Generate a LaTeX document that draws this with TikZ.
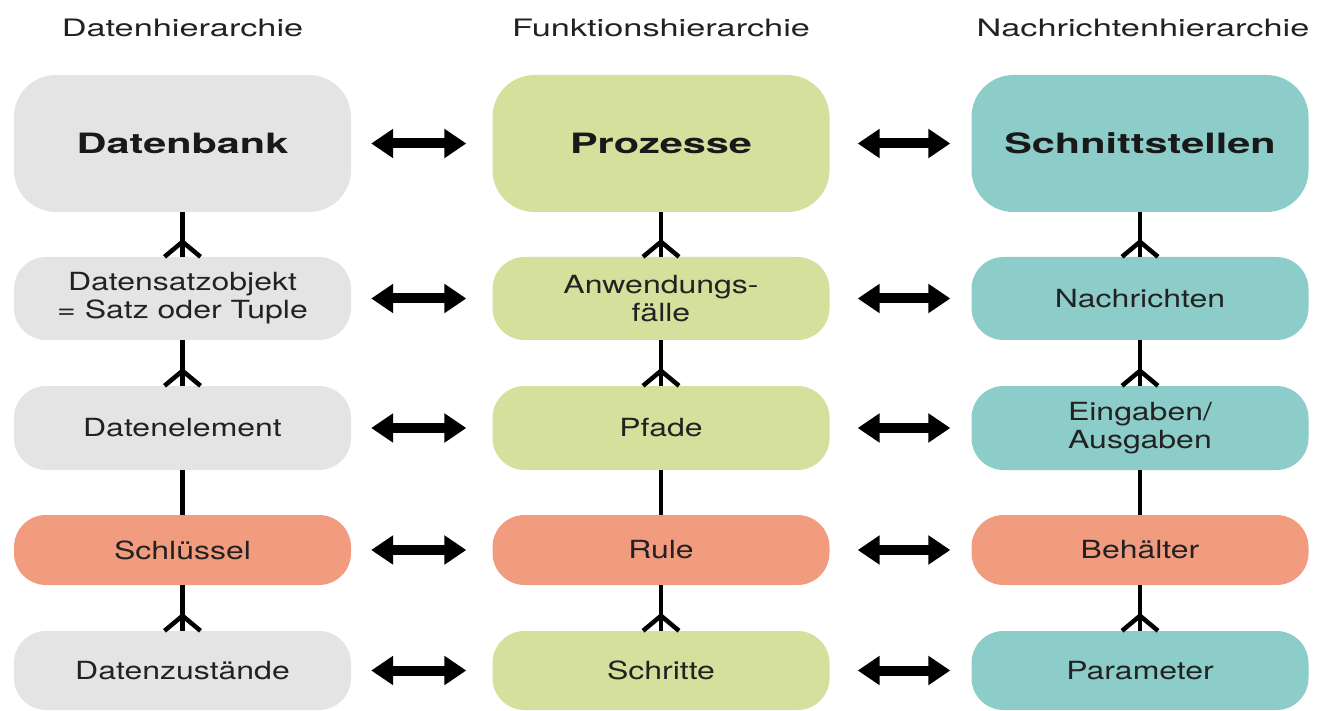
\documentclass[tikz,border=0pt]{standalone}
\usepackage{fontspec}
\usetikzlibrary{arrows.meta,calc}
\newfontfamily\bodyfont[FakeStretch=1.28]{TeX Gyre Heros}
\newfontfamily\headfont[FakeStretch=1.43]{TeX Gyre Heros}
\newfontfamily\bigfont[FakeStretch=1.48]{TeX Gyre Heros}
\definecolor{cgray}{HTML}{E4E4E4}
\definecolor{cgreen}{HTML}{D4E09B}
\definecolor{cteal}{HTML}{8CCDC9}
\definecolor{csalmon}{HTML}{F29C7F}
\definecolor{ctext}{HTML}{222222}
\begin{document}
\begin{tikzpicture}[x=1pt,y=-1pt,
 box/.style={rounded corners=32pt, minimum width=337pt, text=ctext, align=center, inner sep=0pt, font=\bodyfont\fontsize{25}{28}\selectfont},
 bigbox/.style={box, rounded corners=42pt, font=\bigfont\bfseries\fontsize{28}{32}\selectfont, text=black!90},
 head/.style={font=\headfont\fontsize{24}{28}\selectfont, text=ctext},
 conn/.style={line width=4.5pt, black},
 dbl/.style={line width=10pt, {Triangle[length=22pt,width=28pt]}-{Triangle[length=22pt,width=28pt]}},
 dblL/.style={dbl, shorten <=20pt, shorten >=26pt},
 dblR/.style={dbl, shorten <=28pt, shorten >=21pt}
]
\useasboundingbox (0,0) rectangle (1320,711);
% headers
\node[head] (h1) at (182.5,28) {Datenhierarchie};
\node[head] (h2) at (661,28) {Funktionshierarchie};
\node[head] (h3) at (1143,28) {Nachrichtenhierarchie};
% row 1
\node[bigbox, fill=cgray, minimum height=137pt] (d1) at (182.5,143.5) {Datenbank};
\node[bigbox, fill=cgreen, minimum height=137pt] (f1) at (661,143.5) {Prozesse};
\node[bigbox, fill=cteal, minimum height=137pt] (n1) at (1140,143.5) {Schnittstellen};
% row 2
\node[box, fill=cgray, minimum height=83pt] (d2) at (182.5,298.5) {Datensatzobjekt\\= Satz oder Tuple};
\node[box, fill=cgreen, minimum height=83pt] (f2) at (661,298.5) {Anwendungs-\\fälle};
\node[box, fill=cteal, minimum height=83pt] (n2) at (1140,298.5) {Nachrichten};
% row 3
\node[box, fill=cgray, minimum height=84pt] (d3) at (182.5,428) {Datenelement};
\node[box, fill=cgreen, minimum height=84pt] (f3) at (661,428) {Pfade};
\node[box, fill=cteal, minimum height=84pt] (n3) at (1140,428) {Eingaben/\\Ausgaben};
% row 4
\node[box, fill=csalmon, minimum height=70pt] (d4) at (182.5,550) {Schlüssel};
\node[box, fill=csalmon, minimum height=70pt] (f4) at (661,550) {Rule};
\node[box, fill=csalmon, minimum height=70pt] (n4) at (1140,550) {Behälter};
% row 5
\node[box, fill=cgray, minimum height=79pt] (d5) at (182.5,670.5) {Datenzustände};
\node[box, fill=cgreen, minimum height=79pt] (f5) at (661,670.5) {Schritte};
\node[box, fill=cteal, minimum height=79pt] (n5) at (1140,670.5) {Parameter};
% horizontal double arrows
\foreach \r in {1,...,5}{
  \draw[dblL] (d\r) -- (f\r);
  \draw[dblR] (f\r) -- (n\r);
}
% vertical connectors
\foreach \c in {d,f,n}{
  \draw[conn] (\c1.south) -- (\c2.north);
  \draw[conn] (\c2.south) -- (\c3.north);
  \draw[conn] (\c3.south) -- (\c4.north);
  \draw[conn] (\c4.south) -- (\c5.north);
  \foreach \b in {2,3,5}{
    \draw[conn] ($(\c\b.north)+(-18,0)$) -- ($(\c\b.north)+(0,-15)$) -- ($(\c\b.north)+(18,0)$);
  }
}
\end{tikzpicture}
\end{document}
